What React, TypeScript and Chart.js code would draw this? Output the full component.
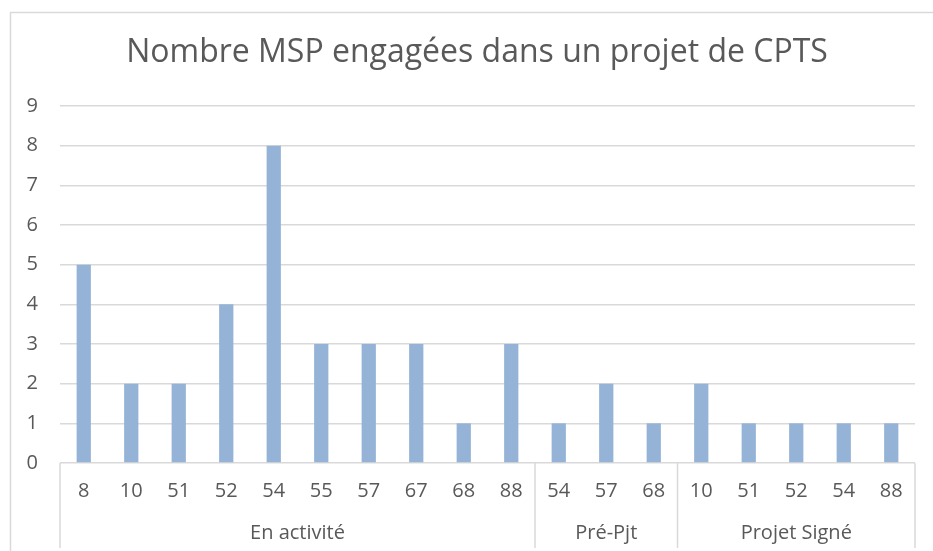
import React, { useEffect, useRef } from "react";
import { Chart, registerables } from "chart.js";

Chart.register(...registerables);

const titleText = "Nombre MSP engagées dans un projet de CPTS";
const groupNames = ["En activité", "Pré-Pjt", "Projet Signé"];
const enActiviteCodes = ["8", "10", "51", "52", "54", "55", "57", "67", "68", "88"];
const enActiviteValues = [5, 2, 2, 4, 8, 3, 3, 3, 1, 3];
const prePjtCodes = ["54", "57", "68"];
const prePjtValues = [1, 2, 1];
const projetSigneCodes = ["10", "51", "52", "54", "88"];
const projetSigneValues = [2, 1, 1, 1, 1];
const yTicks = [0, 1, 2, 3, 4, 5, 6, 7, 8, 9];

const FONT = "'Open Sans', sans-serif";
const TEXT = "#595959";
const GRID = "#d9d9d9";
const BAR = "#95b3d7";

export default function App() {
  const ref = useRef<HTMLCanvasElement | null>(null);
  useEffect(() => {
    if (!ref.current) return;
    const groupCodes = [enActiviteCodes, prePjtCodes, projetSigneCodes];
    const labels = [...enActiviteCodes, ...prePjtCodes, ...projetSigneCodes];
    const values = [...enActiviteValues, ...prePjtValues, ...projetSigneValues];

    const decor = {
      id: "decor",
      afterDraw(chart: any) {
        const ctx = chart.ctx;
        const area = chart.chartArea;
        const xs = chart.scales.x;
        ctx.save();
        // outer border
        ctx.strokeStyle = GRID;
        ctx.lineWidth = 1.5;
        ctx.strokeRect(10.5, 12.5, 960, 600);
        // title
        ctx.fillStyle = TEXT;
        ctx.font = `32px ${FONT}`;
        ctx.textAlign = "center";
        ctx.textBaseline = "middle";
        ctx.fillText(titleText, 477, 53);
        // group separators and labels
        const half = (xs.getPixelForValue(1) - xs.getPixelForValue(0)) / 2;
        let start = 0;
        const bottom = 548;
        ctx.strokeStyle = GRID;
        ctx.lineWidth = 1.5;
        const drawV = (x: number) => {
          ctx.beginPath();
          ctx.moveTo(x, area.bottom);
          ctx.lineTo(x, bottom);
          ctx.stroke();
        };
        drawV(xs.getPixelForValue(0) - half);
        ctx.font = `20px ${FONT}`;
        groupCodes.forEach((codes, gi) => {
          const end = start + codes.length - 1;
          const x0 = xs.getPixelForValue(start) - half;
          const x1 = xs.getPixelForValue(end) + half;
          drawV(x1);
          ctx.fillText(groupNames[gi], (x0 + x1) / 2, 533);
          start = end + 1;
        });
        ctx.restore();
      },
    };

    const chart = new Chart(ref.current, {
      type: "bar",
      data: {
        labels,
        datasets: [
          {
            data: values,
            backgroundColor: BAR,
            barPercentage: 0.3,
            categoryPercentage: 1,
          },
        ],
      },
      plugins: [decor],
      options: {
        animation: false,
        responsive: false,
        maintainAspectRatio: false,
        layout: { padding: { left: 10, top: 106, right: 18, bottom: 3 } },
        plugins: { legend: { display: false }, tooltip: { enabled: false }, title: { display: false } },
        scales: {
          x: {
            offset: true,
            grid: { display: false, drawTicks: false },
            border: { display: false },
            ticks: { color: TEXT, font: { family: FONT, size: 20 }, padding: 16, maxRotation: 0, autoSkip: false },
            afterFit: (s: any) => { s.height = 85; },
          },
          y: {
            min: 0,
            max: 9,
            afterBuildTicks: (s: any) => { s.ticks = yTicks.map((v) => ({ value: v })); },
            grid: { color: GRID, lineWidth: 1.5, drawTicks: false },
            border: { display: false },
            ticks: { color: TEXT, font: { family: FONT, size: 20 }, padding: 22 },
            afterFit: (s: any) => { s.width = 50; },
          },
        },
      },
    });
    return () => chart.destroy();
  }, []);
  return (
    <div style={{ position: "absolute", left: 0, top: 0, width: 933, height: 551 }}>
      <canvas ref={ref} width={933} height={551} style={{ width: 933, height: 551 }} />
    </div>
  );
}
